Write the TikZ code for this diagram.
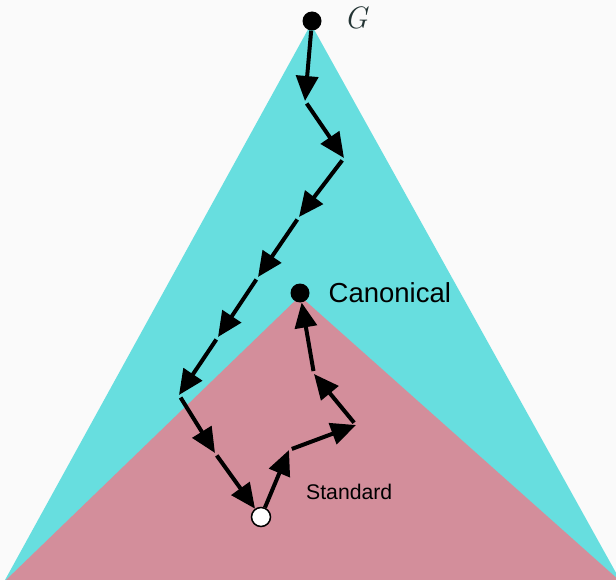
\documentclass[tikz,border=0pt]{standalone}
\usepackage{fontspec}
\setsansfont{Liberation Sans}
\usetikzlibrary{arrows.meta}
\definecolor{bgc}{RGB}{250,250,250}
\definecolor{cyanreg}{RGB}{103,222,223}
\definecolor{pinkreg}{RGB}{211,142,155}
\definecolor{gcol}{RGB}{35,52,52}
\tikzset{
  arr/.style={line width=4pt, draw=black, -{Triangle[length=25pt,width=22pt]}, shorten <=3pt},
  blackdot/.style={circle, fill=black, minimum size=19pt, inner sep=0pt},
  whitedot/.style={circle, fill=white, draw=black, line width=1.5pt, minimum size=19pt, inner sep=0pt},
  lbl/.style={inner sep=0pt, anchor=base west}
}
\begin{document}
\begin{tikzpicture}[x=1pt,y=-1pt]
\useasboundingbox (0,0) rectangle (616,580);
\fill[bgc] (0,0) rectangle (616,580);
% regions
\fill[cyanreg] (311,24) -- (620,580) -- (5,580) -- cycle;
\fill[pinkreg] (300,296) -- (620,581) -- (6,580) -- cycle;
% nodes
\node[blackdot] (G) at (312,21) {};
\node[blackdot] (can) at (300,293) {};
\node[whitedot] (std) at (261,517) {};
\node[lbl, text=gcol, font=\rmfamily\itshape\fontsize{31}{34}\selectfont] (gl) at (344,29) {G};
\node[lbl, font=\sffamily\fontsize{27.5}{30}\selectfont] (canl) at (328.5,302) {Canonical};
\node[lbl, font=\sffamily\fontsize{21.2}{24}\selectfont] (stdl) at (306,499.5) {Standard};
% corners
\coordinate (c1) at (305,101);
\coordinate (c2) at (344,158);
\coordinate (c3) at (299,217);
\coordinate (c4) at (258,277);
\coordinate (c5) at (218,337);
\coordinate (c6) at (179,395);
\coordinate (c7) at (215,453);
\coordinate (c9) at (289,450);
\coordinate (c10) at (356,425);
\coordinate (c11) at (314,374);
% path
\draw[arr, shorten <=0pt] (G) -- (c1);
\draw[arr] (c1) -- (c2);
\draw[arr] (c2) -- (c3);
\draw[arr] (c3) -- (c4);
\draw[arr] (c4) -- (c5);
\draw[arr] (c5) -- (c6);
\draw[arr] (c6) -- (c7);
\draw[arr] (c7) -- (std);
\draw[arr, shorten <=0pt] (std) -- (c9);
\draw[arr] (c9) -- (c10);
\draw[arr] (c10) -- (c11);
\draw[arr] (c11) -- (can);
\end{tikzpicture}
\end{document}
